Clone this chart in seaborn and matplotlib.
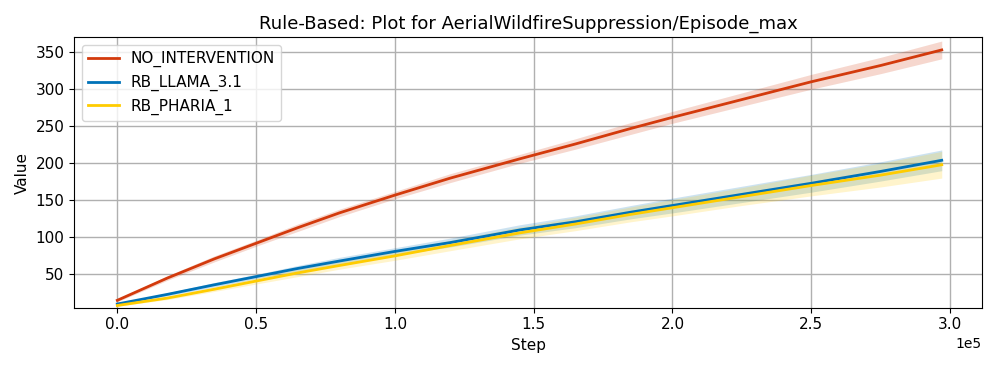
import numpy as np
import pandas as pd
import matplotlib
matplotlib.use("Agg")
import matplotlib.pyplot as plt
import seaborn as sns

# values
steps = [0, 18000, 35000, 50000, 65000, 80000, 100000, 120000, 145000,
         165000, 185000, 200000, 225000, 250000, 275000, 297000]

no_intervention = [15, 45, 71, 92, 113, 133, 157, 180, 206, 226, 247, 262, 286, 310, 332, 353]
no_intervention_err = [2, 3, 4, 4, 5, 5, 5, 6, 6, 7, 8, 8, 9, 10, 11, 12]

rb_llama = [10, 23, 36, 47, 58, 68, 81, 93, 110, 121, 134, 143, 158, 173, 189, 204]
rb_llama_err = [1, 2, 3, 3, 4, 5, 5, 6, 7, 8, 9, 10, 11, 12, 13, 14]

rb_pharia = [8, 18, 30, 41, 52, 62, 75, 89, 106, 118, 131, 140, 155, 170, 184, 198]
rb_pharia_err = [1, 2, 3, 4, 5, 5, 6, 7, 8, 9, 10, 11, 12, 14, 16, 18]

series = {
    "NO_INTERVENTION": (no_intervention, no_intervention_err, "#d33a0c"),
    "RB_LLAMA_3.1": (rb_llama, rb_llama_err, "#0072b8"),
    "RB_PHARIA_1": (rb_pharia, rb_pharia_err, "#ffcc00"),
}

frames = []
for name, (vals, err, _) in series.items():
    frames.append(pd.DataFrame({"Step": steps, "Value": vals, "err": err, "run": name}))
df = pd.concat(frames, ignore_index=True)

fig, ax = plt.subplots(figsize=(9.97, 3.68), dpi=100)
palette = {k: v[2] for k, v in series.items()}
sns.lineplot(data=df, x="Step", y="Value", hue="run", palette=palette,
             linewidth=2, ax=ax)
for name, grp in df.groupby("run", sort=False):
    ax.fill_between(grp["Step"], grp["Value"] - grp["err"], grp["Value"] + grp["err"],
                    color=palette[name], alpha=0.2, linewidth=0)

ax.set_xlim(-15500, 311500)
ax.set_ylim(5, 370)
ax.grid(True, color="#b0b0b0", linewidth=1)
ax.set_axisbelow(True)
ax.ticklabel_format(axis="x", style="sci", scilimits=(0, 0))
ax.set_title("Rule-Based: Plot for AerialWildfireSuppression/Episode_max", fontsize=13)
ax.set_xlabel("Step", fontsize=11)
ax.set_ylabel("Value", fontsize=11)
ax.tick_params(labelsize=11)
ax.legend(loc="upper left", fontsize=11, title=None)

plt.tight_layout()
fig.savefig("out.png", dpi=100)
